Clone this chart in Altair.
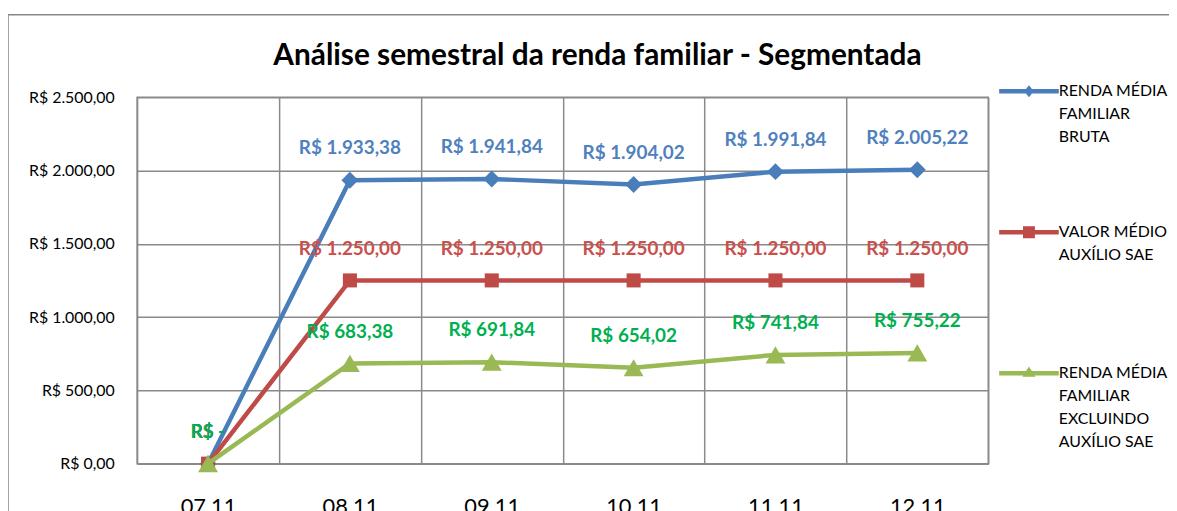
import altair as alt
import pandas as pd

# ---- data ----
months = ["07.11", "08.11", "09.11", "10.11", "11.11", "12.11"]
renda_bruta = [0, 1933.38, 1941.84, 1904.02, 1991.84, 2005.22]
auxilio_sae = [0, 1250.00, 1250.00, 1250.00, 1250.00, 1250.00]
renda_excl = [0, 683.38, 691.84, 654.02, 741.84, 755.22]

series_names = [
    "RENDA MÉDIA FAMILIAR BRUTA",
    "VALOR MÉDIO AUXÍLIO SAE",
    "RENDA MÉDIA FAMILIAR EXCLUINDO AUXÍLIO SAE",
]
legend_lines = [
    ["RENDA MÉDIA", "FAMILIAR", "BRUTA"],
    ["VALOR MÉDIO", "AUXÍLIO SAE"],
    ["RENDA MÉDIA", "FAMILIAR", "EXCLUINDO", "AUXÍLIO SAE"],
]
y_ticks = [0, 500, 1000, 1500, 2000, 2500]
title_text = "Análise semestral da renda familiar - Segmentada"

# ---- styles ----
line_colors = ["#4A7EBB", "#BE4B48", "#98B954"]
label_colors = ["#4F81BD", "#C9504D", "#00B050"]
marker_shapes = ["diamond", "square", "triangle-up"]
marker_sizes = [290, 200, 400]
legend_paths = [
    "M-1,-0.073H1V0.073H-1Z M-0.16,0L0,-0.2L0.16,0L0,0.2Z",
    "M-1,-0.073H1V0.073H-1Z M-0.2,-0.2H0.2V0.2H-0.2Z",
    "M-1,-0.073H1V0.073H-1Z M0,-0.23L0.22,0.12L-0.22,0.12Z",
]
FONT = "Lato"
GRID = "#8A8A8A"


def brl(v):
    if v == 0:
        return "R$ -"
    s = f"{v:,.2f}".replace(",", "_").replace(".", ",").replace("_", ".")
    return "R$ " + s


rows = []
for name, vals in zip(series_names, [renda_bruta, auxilio_sae, renda_excl]):
    for m, v in zip(months, vals):
        rows.append({"mes": m, "valor": v, "serie": name, "rotulo": brl(v)})
df = pd.DataFrame(rows)

label_expr = " : ".join(
    [f"datum.label == '{n}' ? {ll!r}" for n, ll in zip(series_names, legend_lines)]
) + " : datum.label"
label_expr = label_expr.replace('"', "'")

legend = alt.Legend(
    orient="none", legendX=868, legendY=-36, title=None,
    labelExpr=label_expr, labelFont=FONT, labelFontSize=16, labelColor="#000000",
    labelLimit=300, labelBaseline="middle", labelOffset=0,
    symbolSize=3600, symbolOpacity=1, symbolStrokeWidth=0,
    rowPadding=35, gridAlign="all",
)

x_enc = alt.X(
    "mes:N", sort=months, title=None,
    scale=alt.Scale(type="band", domain=months, paddingInner=0, paddingOuter=0),
    axis=alt.Axis(
        tickBand="extent", grid=True, gridColor=GRID, gridWidth=1.5, ticks=False,
        domain=False, labelAngle=0, labelFont=FONT, labelFontSize=22,
        labelColor="#000000", labelPadding=33,
    ),
)
y_enc = alt.Y(
    "valor:Q", title=None,
    scale=alt.Scale(domain=[0, 2500], nice=False),
    axis=alt.Axis(
        values=y_ticks, grid=True, gridColor=GRID, gridWidth=1.5, ticks=False,
        domain=False, labelFont=FONT, labelFontSize=16, labelColor="#000000",
        labelPadding=23,
        labelExpr="'R$ ' + replace(replace(replace(format(datum.value, ',.2f'), ',', '#'), '.', ','), '#', '.')",
    ),
)
color_enc = alt.Color(
    "serie:N", scale=alt.Scale(domain=series_names, range=line_colors), legend=legend
)

base = alt.Chart(df)
layers = []
for i, name in enumerate(series_names):
    sub = base.transform_filter(alt.datum.serie == name)
    layers.append(sub.mark_line(strokeWidth=4.5).encode(x=x_enc, y=y_enc, color=color_enc))
    layers.append(
        sub.mark_point(filled=True, opacity=1, shape=marker_shapes[i], size=marker_sizes[i])
        .encode(x=x_enc, y=y_enc, color=color_enc)
    )

labels = base.mark_text(
    font=FONT, fontWeight="bold", fontSize=19, dy=-32, baseline="middle", align="center"
).encode(
    x=x_enc, y=y_enc, text="rotulo:N",
    fill=alt.Fill("serie:N", scale=alt.Scale(domain=series_names, range=label_colors), legend=None),
)

legend_layer = base.mark_point(filled=True, opacity=0, size=1).encode(
    x=x_enc, y=y_enc, color=color_enc,
    shape=alt.Shape("serie:N", scale=alt.Scale(domain=series_names, range=legend_paths), legend=legend),
)

border = alt.Chart(pd.DataFrame({"k": [0]})).mark_rect(
    fill="transparent", stroke="#878787", strokeWidth=1.5
).encode(
    x=alt.value(-130), x2=alt.value(1200), y=alt.value(-83), y2=alt.value(700)
)

chart = alt.layer(border, *layers, labels, legend_layer).properties(
    width=857, height=369,
    padding={"left": 130, "top": 88, "right": 182, "bottom": 60},
    autosize=alt.AutoSizeParams(type="none"),
    title=alt.Title(
        title_text, font=FONT, fontSize=30, fontWeight="bold", color="#000000",
        anchor="middle", frame="group", dx=35, offset=-57,
    ),
).configure(
    background="#FFFFFF",
    style={"guide-label": {"lineHeight": 23}},
).configure_view(stroke=GRID, strokeWidth=1.5)

chart.save("out.html", embed_options={"renderer": "svg", "actions": False})
